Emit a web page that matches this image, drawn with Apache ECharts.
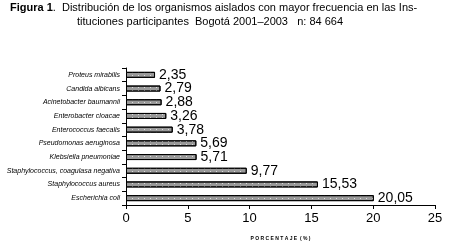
<!DOCTYPE html>
<html>
<head>
<meta charset="utf-8">
<script src="https://cdn.jsdelivr.net/npm/echarts@6/dist/echarts.min.js"></script>
<style>
  html, body { margin: 0; padding: 0; background: #fff; }
  #chart { width: 449px; height: 250px; }
</style>
</head>
<body>
<div id="chart"></div>
<script>
// top to bottom, as in the figure
const organisms = [
  'Proteus mirabilis',
  'Candida albicans',
  'Acinetobacter baumannii',
  'Enterobacter cloacae',
  'Enterococcus faecalis',
  'Pseudomonas aeruginosa',
  'Klebsiella pneumoniae',
  'Staphylococcus, coagulasa negativa',
  'Staphylococcus aureus',
  'Escherichia coli',
];
const percentages = [2.35, 2.79, 2.88, 3.26, 3.78, 5.69, 5.71, 9.77, 15.53, 20.05];
const xTicks = [0, 5, 10, 15, 20, 25];

const chart = echarts.init(document.getElementById('chart'));

const titleStyle = {
  fontSize: 11,
  fontWeight: 'normal',
  color: '#000',
  rich: {
    b: { fontSize: 11, fontWeight: 'bold', color: '#000' },
  },
};

const option = {
  animation: false,
  textStyle: { fontFamily: 'Liberation Sans, Arial, sans-serif' },
  title: [
    {
      left: 10,
      top: 2,
      padding: 0,
      text: '{b|Figura 1}.  Distribución de los organismos aislados con mayor frecuencia en las Ins-',
      textStyle: titleStyle,
    },
    {
      left: 77,
      top: 16,
      padding: 0,
      text: 'tituciones participantes  Bogotá 2001–2003   n: 84 664',
      textStyle: titleStyle,
    },
  ],
  grid: {
    left: 126,
    right: 14,
    top: 68,
    bottom: 45,
  },
  xAxis: {
    type: 'value',
    min: xTicks[0],
    max: xTicks[xTicks.length - 1],
    interval: 5,
    splitLine: { show: false },
    axisLine: { show: true, lineStyle: { color: '#000', width: 1 } },
    axisTick: { show: true, length: 4, lineStyle: { color: '#000' } },
    axisLabel: { color: '#000', fontSize: 13, margin: 7 },
    name: 'P O R C E N T A J E  ( % )',
    nameLocation: 'middle',
    nameGap: 31,
    nameTextStyle: { fontSize: 5, fontWeight: 'bold', color: '#000' },
  },
  yAxis: {
    type: 'category',
    inverse: true,
    data: organisms,
    axisLine: { show: true, lineStyle: { color: '#000', width: 1 } },
    axisTick: { show: true, length: 4, lineStyle: { color: '#000' } },
    axisLabel: { color: '#000', fontSize: 7, fontStyle: 'italic', margin: 6 },
  },
  series: [{
    type: 'bar',
    data: percentages,
    barWidth: 6,
    itemStyle: {
      color: '#999',
      borderColor: '#000',
      borderWidth: 1,
      decal: {
        symbol: 'rect',
        symbolSize: 1,
        color: '#ddd',
        dashArrayX: [1, 5],
        dashArrayY: [1, 2],
        rotation: 0,
      },
    },
    label: {
      show: true,
      position: 'right',
      distance: 4,
      color: '#000',
      fontSize: 14,
      formatter: (p) => p.value.toFixed(2).replace('.', ','),
    },
  }],
};

chart.setOption(option);
</script>
</body>
</html>
